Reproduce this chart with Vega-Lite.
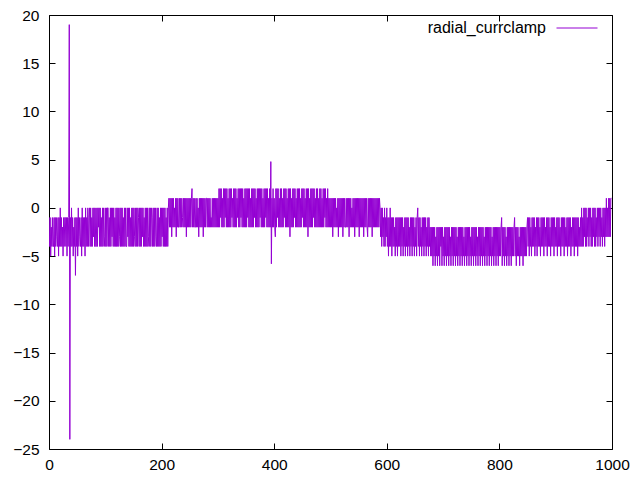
{
  "$schema": "https://vega.github.io/schema/vega-lite/v6.json",
  "width": 563,
  "height": 434,
  "autosize": {"type": "none"},
  "padding": {"left": 49, "top": 15, "right": 28, "bottom": 31},
  "background": "white",
  "config": {
    "view": {"stroke": "#000000", "strokeWidth": 1},
    "font": "Liberation Sans",
    "axis": {"domain": false, "grid": false, "tickColor": "#000000", "tickSize": -6, "tickWidth": 1, "labelFont": "Liberation Sans", "labelFontSize": 15.5, "labelColor": "#000000", "title": null}
  },
  "data": {"values": [
{"x":0,"y":-1},{"x":1,"y":-4},{"x":2,"y":-1},{"x":3,"y":-5},{"x":4,"y":-2},{"x":5,"y":-4},{"x":6,"y":-1},{"x":7,"y":-4},{"x":8,"y":-4},{"x":9,"y":-1},
{"x":10,"y":-5},{"x":11,"y":-1},{"x":12,"y":-4},{"x":13,"y":-1},{"x":14,"y":-3},{"x":15,"y":-4},{"x":16,"y":-1},{"x":17,"y":-5},{"x":18,"y":-1},{"x":19,"y":-4},
{"x":20,"y":0},{"x":21,"y":-4},{"x":22,"y":-1},{"x":23,"y":-4},{"x":24,"y":-2},{"x":25,"y":-5},{"x":26,"y":-1},{"x":27,"y":-4},{"x":28,"y":-1},{"x":29,"y":-1},
{"x":30,"y":-4},{"x":31,"y":-1},{"x":32,"y":-5},{"x":33,"y":-1},{"x":34,"y":-4},{"x":35,"y":-1},{"x":36,"y":19},{"x":37,"y":-24},{"x":38,"y":-1},{"x":39,"y":-4},
{"x":40,"y":0},{"x":41,"y":-4},{"x":42,"y":-1},{"x":43,"y":-5},{"x":44,"y":-2},{"x":45,"y":-4},{"x":46,"y":-1},{"x":47,"y":-7},{"x":48,"y":-1},{"x":49,"y":-4},
{"x":50,"y":-1},{"x":51,"y":-5},{"x":52,"y":0},{"x":53,"y":-4},{"x":54,"y":-1},{"x":55,"y":-3},{"x":56,"y":-4},{"x":57,"y":-1},{"x":58,"y":-5},{"x":59,"y":0},
{"x":60,"y":-4},{"x":61,"y":-1},{"x":62,"y":-4},{"x":63,"y":-1},{"x":64,"y":-5},{"x":65,"y":0},{"x":66,"y":-4},{"x":67,"y":-1},{"x":68,"y":-4},{"x":69,"y":0},
{"x":70,"y":-4},{"x":71,"y":-1},
{"x":72,"y":0},{"x":73,"y":-4},{"x":74,"y":0},{"x":75,"y":-4},{"x":76,"y":-1},{"x":77,"y":-4},{"x":78,"y":0},{"x":79,"y":-3},{"x":80,"y":0},{"x":81,"y":-4},
{"x":82,"y":0},{"x":83,"y":-4},{"x":84,"y":-4},{"x":85,"y":0},{"x":86,"y":-4},{"x":87,"y":0},{"x":88,"y":-2},{"x":89,"y":0},{"x":90,"y":-4},{"x":91,"y":0},
{"x":92,"y":-4},{"x":93,"y":-1},{"x":94,"y":-4},{"x":95,"y":0},{"x":96,"y":-4},{"x":97,"y":0},{"x":98,"y":-3},{"x":99,"y":-4},{"x":100,"y":0},{"x":101,"y":-4},
{"x":102,"y":0},{"x":103,"y":-4},{"x":104,"y":0},{"x":105,"y":0},{"x":106,"y":-4},{"x":107,"y":-1},{"x":108,"y":-4},{"x":109,"y":0},{"x":110,"y":-4},{"x":111,"y":0},
{"x":112,"y":-3},{"x":113,"y":0},{"x":114,"y":-4},{"x":115,"y":0},{"x":116,"y":-4},{"x":117,"y":-1},{"x":118,"y":-4},{"x":119,"y":0},{"x":120,"y":-4},{"x":121,"y":0},
{"x":122,"y":-4},{"x":123,"y":0},{"x":124,"y":-4},{"x":125,"y":-3},{"x":126,"y":0},{"x":127,"y":-4},{"x":128,"y":0},{"x":129,"y":-4},{"x":130,"y":0},{"x":131,"y":-4},
{"x":132,"y":-1},{"x":133,"y":-4},{"x":134,"y":0},{"x":135,"y":-4},{"x":136,"y":0},{"x":137,"y":-4},{"x":138,"y":-4},{"x":139,"y":0},{"x":140,"y":-3},{"x":141,"y":0},
{"x":142,"y":-4},{"x":143,"y":0},{"x":144,"y":-4},{"x":145,"y":-1},{"x":146,"y":-4},{"x":147,"y":0},{"x":148,"y":-4},{"x":149,"y":0},{"x":150,"y":-4},{"x":151,"y":0},
{"x":152,"y":-3},{"x":153,"y":-4},{"x":154,"y":0},{"x":155,"y":-4},{"x":156,"y":0},{"x":157,"y":-4},{"x":158,"y":0},{"x":159,"y":-1},{"x":160,"y":-4},{"x":161,"y":0},
{"x":162,"y":-4},{"x":163,"y":0},{"x":164,"y":-4},{"x":165,"y":0},{"x":166,"y":-3},{"x":167,"y":0},{"x":168,"y":-4},{"x":169,"y":-1},{"x":170,"y":-4},{"x":171,"y":0},
{"x":172,"y":-4},{"x":173,"y":0},{"x":174,"y":-4},{"x":175,"y":0},{"x":176,"y":-4},{"x":177,"y":-3},{"x":178,"y":0},{"x":179,"y":-4},{"x":180,"y":0},{"x":181,"y":-4},
{"x":182,"y":0},{"x":183,"y":-1},{"x":184,"y":-4},{"x":185,"y":0},{"x":186,"y":-4},{"x":187,"y":0},{"x":188,"y":-4},{"x":189,"y":0},{"x":190,"y":-3},{"x":191,"y":-4},
{"x":192,"y":0},{"x":193,"y":-4},{"x":194,"y":0},{"x":195,"y":-4},{"x":196,"y":-1},{"x":197,"y":-4},{"x":198,"y":0},{"x":199,"y":-4},{"x":200,"y":0},{"x":201,"y":-3},
{"x":202,"y":0},{"x":203,"y":-4},{"x":204,"y":0},{"x":205,"y":-4},{"x":206,"y":0},{"x":207,"y":-4},{"x":208,"y":-1},{"x":209,"y":-4},{"x":210,"y":0},{"x":211,"y":-4},
{"x":212,"y":0},
{"x":213,"y":1},{"x":214,"y":-2},{"x":215,"y":1},{"x":216,"y":-2},{"x":217,"y":1},{"x":218,"y":-3},{"x":219,"y":1},{"x":220,"y":-2},{"x":221,"y":1},{"x":222,"y":-2},
{"x":223,"y":0},{"x":224,"y":-2},{"x":225,"y":1},{"x":226,"y":-3},{"x":227,"y":1},{"x":228,"y":-2},{"x":229,"y":1},{"x":230,"y":-2},{"x":231,"y":-2},{"x":232,"y":1},
{"x":233,"y":-2},{"x":234,"y":1},{"x":235,"y":-2},{"x":236,"y":1},{"x":237,"y":-1},{"x":238,"y":-2},{"x":239,"y":1},{"x":240,"y":-2},{"x":241,"y":1},{"x":242,"y":-2},
{"x":243,"y":1},{"x":244,"y":-3},{"x":245,"y":1},{"x":246,"y":-2},{"x":247,"y":1},{"x":248,"y":-2},{"x":249,"y":1},{"x":250,"y":-2},{"x":251,"y":1},{"x":252,"y":-2},
{"x":253,"y":1},{"x":254,"y":2},{"x":255,"y":-2},{"x":256,"y":1},{"x":257,"y":-2},{"x":258,"y":1},{"x":259,"y":-2},{"x":260,"y":-2},{"x":261,"y":1},{"x":262,"y":-2},
{"x":263,"y":1},{"x":264,"y":-2},{"x":265,"y":0},{"x":266,"y":-3},{"x":267,"y":1},{"x":268,"y":-2},{"x":269,"y":1},{"x":270,"y":-2},{"x":271,"y":1},{"x":272,"y":-2},
{"x":273,"y":1},{"x":274,"y":-3},{"x":275,"y":1},{"x":276,"y":-2},{"x":277,"y":1},{"x":278,"y":-2},{"x":279,"y":1},{"x":280,"y":1},{"x":281,"y":-2},{"x":282,"y":1},
{"x":283,"y":-2},{"x":284,"y":1},{"x":285,"y":-2},{"x":286,"y":1},{"x":287,"y":-2},{"x":288,"y":-1},{"x":289,"y":-2},{"x":290,"y":1},{"x":291,"y":-2},{"x":292,"y":1},
{"x":293,"y":-2},{"x":294,"y":1},{"x":295,"y":-2},{"x":296,"y":1},{"x":297,"y":-2},{"x":298,"y":1},{"x":299,"y":-2},{"x":300,"y":1},{"x":301,"y":-2},
{"x":302,"y":2},{"x":303,"y":-2},{"x":304,"y":2},{"x":305,"y":-1},{"x":306,"y":2},{"x":307,"y":-2},{"x":308,"y":1},{"x":309,"y":-2},{"x":310,"y":2},{"x":311,"y":-2},
{"x":312,"y":2},{"x":313,"y":-1},{"x":314,"y":2},{"x":315,"y":-2},{"x":316,"y":2},{"x":317,"y":-2},{"x":318,"y":1},{"x":319,"y":-2},{"x":320,"y":2},{"x":321,"y":-2},
{"x":322,"y":2},{"x":323,"y":-2},{"x":324,"y":2},{"x":325,"y":-1},{"x":326,"y":1},{"x":327,"y":-2},{"x":328,"y":2},{"x":329,"y":-2},{"x":330,"y":2},{"x":331,"y":-2},
{"x":332,"y":2},{"x":333,"y":-2},{"x":334,"y":1},{"x":335,"y":-1},{"x":336,"y":2},{"x":337,"y":-2},{"x":338,"y":2},{"x":339,"y":-2},{"x":340,"y":2},{"x":341,"y":-1},
{"x":342,"y":2},{"x":343,"y":-2},{"x":344,"y":2},{"x":345,"y":-2},{"x":346,"y":1},{"x":347,"y":-2},{"x":348,"y":2},{"x":349,"y":-2},{"x":350,"y":2},{"x":351,"y":-2},
{"x":352,"y":2},{"x":353,"y":-1},{"x":354,"y":2},{"x":355,"y":-2},{"x":356,"y":2},{"x":357,"y":-2},{"x":358,"y":1},{"x":359,"y":-2},{"x":360,"y":2},{"x":361,"y":-2},
{"x":362,"y":2},{"x":363,"y":-2},{"x":364,"y":2},{"x":365,"y":-1},{"x":366,"y":2},{"x":367,"y":-2},{"x":368,"y":1},{"x":369,"y":-2},{"x":370,"y":2},{"x":371,"y":-2},
{"x":372,"y":2},{"x":373,"y":-2},{"x":374,"y":2},{"x":375,"y":-1},{"x":376,"y":2},{"x":377,"y":-2},{"x":378,"y":2},{"x":379,"y":-2},{"x":380,"y":1},{"x":381,"y":-2},
{"x":382,"y":2},{"x":383,"y":-2},{"x":384,"y":2},{"x":385,"y":-1},{"x":386,"y":2},{"x":387,"y":-2},{"x":388,"y":2},{"x":389,"y":-2},{"x":390,"y":1},{"x":391,"y":-2},
{"x":392,"y":2},{"x":393,"y":-2},{"x":394,"y":4.8},{"x":395,"y":-5.8},
{"x":396,"y":1},{"x":397,"y":-2},{"x":398,"y":2},{"x":399,"y":-2},{"x":400,"y":1},{"x":401,"y":-2},{"x":402,"y":-3},{"x":403,"y":2},{"x":404,"y":-2},{"x":405,"y":2},
{"x":406,"y":-1},{"x":407,"y":2},{"x":408,"y":-2},{"x":409,"y":1},{"x":410,"y":-2},{"x":411,"y":2},{"x":412,"y":-2},{"x":413,"y":2},{"x":414,"y":-2},{"x":415,"y":1},
{"x":416,"y":-2},{"x":417,"y":2},{"x":418,"y":-1},{"x":419,"y":2},{"x":420,"y":-2},{"x":421,"y":2},{"x":422,"y":-2},{"x":423,"y":1},{"x":424,"y":-2},{"x":425,"y":2},
{"x":426,"y":-2},{"x":427,"y":2},{"x":428,"y":-3},{"x":429,"y":2},{"x":430,"y":-2},{"x":431,"y":1},{"x":432,"y":-2},{"x":433,"y":2},{"x":434,"y":-2},{"x":435,"y":2},
{"x":436,"y":-1},{"x":437,"y":2},{"x":438,"y":-2},{"x":439,"y":1},{"x":440,"y":-2},{"x":441,"y":2},{"x":442,"y":-2},{"x":443,"y":2},{"x":444,"y":-2},{"x":445,"y":2},
{"x":446,"y":-2},{"x":447,"y":1},{"x":448,"y":-2},{"x":449,"y":2},{"x":450,"y":-1},{"x":451,"y":2},{"x":452,"y":-2},{"x":453,"y":2},{"x":454,"y":-2},{"x":455,"y":1},
{"x":456,"y":-2},{"x":457,"y":2},{"x":458,"y":-2},{"x":459,"y":2},{"x":460,"y":-3},{"x":461,"y":2},{"x":462,"y":-2},{"x":463,"y":1},{"x":464,"y":-2},{"x":465,"y":2},
{"x":466,"y":-2},{"x":467,"y":2},{"x":468,"y":-2},{"x":469,"y":2},{"x":470,"y":-1},{"x":471,"y":2},{"x":472,"y":-2},{"x":473,"y":1},{"x":474,"y":-2},{"x":475,"y":2},
{"x":476,"y":-2},{"x":477,"y":2},{"x":478,"y":-2},{"x":479,"y":1},{"x":480,"y":-2},{"x":481,"y":2},{"x":482,"y":-2},{"x":483,"y":2},{"x":484,"y":-2},{"x":485,"y":1},
{"x":486,"y":-2},{"x":487,"y":2},{"x":488,"y":-2},{"x":489,"y":2},{"x":490,"y":-1},{"x":491,"y":2},{"x":492,"y":-2},{"x":493,"y":1},{"x":494,"y":-2},{"x":495,"y":2},
{"x":496,"y":-2},{"x":497,"y":1},{"x":498,"y":-2},{"x":499,"y":1},
{"x":500,"y":-2},{"x":501,"y":1},{"x":502,"y":-2},{"x":503,"y":1},{"x":504,"y":-3},{"x":505,"y":1},{"x":506,"y":-2},{"x":507,"y":1},{"x":508,"y":-2},{"x":509,"y":1},
{"x":510,"y":-2},{"x":511,"y":0},{"x":512,"y":-2},{"x":513,"y":1},{"x":514,"y":-3},{"x":515,"y":1},{"x":516,"y":-2},{"x":517,"y":1},{"x":518,"y":-2},{"x":519,"y":1},
{"x":520,"y":-2},{"x":521,"y":1},{"x":522,"y":-3},{"x":523,"y":1},{"x":524,"y":-2},{"x":525,"y":1},{"x":526,"y":-2},{"x":527,"y":-2},{"x":528,"y":1},{"x":529,"y":-2},
{"x":530,"y":1},{"x":531,"y":-2},{"x":532,"y":1},{"x":533,"y":-3},{"x":534,"y":1},{"x":535,"y":-2},{"x":536,"y":1},{"x":537,"y":-2},{"x":538,"y":0},{"x":539,"y":-2},
{"x":540,"y":1},{"x":541,"y":-2},{"x":542,"y":1},{"x":543,"y":-3},{"x":544,"y":1},{"x":545,"y":-2},{"x":546,"y":1},{"x":547,"y":-2},{"x":548,"y":1},{"x":549,"y":-2},
{"x":550,"y":1},{"x":551,"y":-3},{"x":552,"y":1},{"x":553,"y":-2},{"x":554,"y":1},{"x":555,"y":-2},{"x":556,"y":1},{"x":557,"y":-2},{"x":558,"y":1},{"x":559,"y":-3},
{"x":560,"y":1},{"x":561,"y":-2},{"x":562,"y":1},{"x":563,"y":-2},{"x":564,"y":1},{"x":565,"y":-2},{"x":566,"y":-3},{"x":567,"y":1},{"x":568,"y":-2},{"x":569,"y":1},
{"x":570,"y":-2},{"x":571,"y":1},{"x":572,"y":-2},{"x":573,"y":1},{"x":574,"y":-3},{"x":575,"y":1},{"x":576,"y":-2},{"x":577,"y":1},{"x":578,"y":-2},{"x":579,"y":1},
{"x":580,"y":-2},{"x":581,"y":1},{"x":582,"y":-2},{"x":583,"y":1},{"x":584,"y":-2},{"x":585,"y":1},{"x":586,"y":-2},{"x":587,"y":1},
{"x":588,"y":0},{"x":589,"y":-3},{"x":590,"y":0},{"x":591,"y":-4},{"x":592,"y":0},{"x":593,"y":-3},{"x":594,"y":-1},{"x":595,"y":-4},{"x":596,"y":0},{"x":597,"y":-4},
{"x":598,"y":-1},{"x":599,"y":-3},{"x":600,"y":0},{"x":601,"y":-4},{"x":602,"y":-1},{"x":603,"y":-5},{"x":604,"y":-1},{"x":605,"y":-4},{"x":606,"y":0},{"x":607,"y":-4},
{"x":608,"y":-1},{"x":609,"y":-5},{"x":610,"y":-1},{"x":611,"y":-4},{"x":612,"y":-1},{"x":613,"y":-4},{"x":614,"y":-2},{"x":615,"y":-5},{"x":616,"y":-1},{"x":617,"y":-4},
{"x":618,"y":-1},{"x":619,"y":-5},{"x":620,"y":-1},{"x":621,"y":-4},{"x":622,"y":-1},{"x":623,"y":-4},
{"x":624,"y":-1},{"x":625,"y":-5},{"x":626,"y":-1},{"x":627,"y":-4},{"x":628,"y":-1},{"x":629,"y":-5},{"x":630,"y":-2},{"x":631,"y":-4},{"x":632,"y":-1},{"x":633,"y":-5},
{"x":634,"y":-1},{"x":635,"y":-4},{"x":636,"y":-1},{"x":637,"y":-5},{"x":638,"y":-1},{"x":639,"y":-4},{"x":640,"y":-2},{"x":641,"y":-5},{"x":642,"y":-1},{"x":643,"y":-4},
{"x":644,"y":-1},{"x":645,"y":-5},{"x":646,"y":-1},{"x":647,"y":-4},{"x":648,"y":-1},{"x":649,"y":-5},{"x":650,"y":-2},{"x":651,"y":-4},{"x":652,"y":-1},{"x":653,"y":-5},
{"x":654,"y":-1},{"x":655,"y":0},{"x":656,"y":-4},{"x":657,"y":-1},{"x":658,"y":-5},{"x":659,"y":-1},{"x":660,"y":-4},{"x":661,"y":-2},{"x":662,"y":-5},{"x":663,"y":-1},
{"x":664,"y":-4},{"x":665,"y":-1},{"x":666,"y":-5},{"x":667,"y":-1},{"x":668,"y":-4},{"x":669,"y":-1},{"x":670,"y":-5},{"x":671,"y":-2},{"x":672,"y":-4},{"x":673,"y":-1},
{"x":674,"y":-5},{"x":675,"y":-1},{"x":676,"y":-4},{"x":677,"y":-2},{"x":678,"y":-5},{"x":679,"y":-2},
{"x":680,"y":-5},{"x":681,"y":-2},{"x":682,"y":-6},{"x":683,"y":-2},{"x":684,"y":-5},{"x":685,"y":-2},{"x":686,"y":-6},{"x":687,"y":-3},{"x":688,"y":-5},{"x":689,"y":-2},
{"x":690,"y":-6},{"x":691,"y":-2},{"x":692,"y":-5},{"x":693,"y":-2},{"x":694,"y":-6},{"x":695,"y":-2},{"x":696,"y":-4},{"x":697,"y":-2},{"x":698,"y":-6},{"x":699,"y":-2},
{"x":700,"y":-5},{"x":701,"y":-3},{"x":702,"y":-6},{"x":703,"y":-2},{"x":704,"y":-5},{"x":705,"y":-2},{"x":706,"y":-6},{"x":707,"y":-2},{"x":708,"y":-5},{"x":709,"y":-2},
{"x":710,"y":-6},{"x":711,"y":-2},{"x":712,"y":-5},{"x":713,"y":-3},{"x":714,"y":-6},{"x":715,"y":-2},{"x":716,"y":-5},{"x":717,"y":-2},{"x":718,"y":-6},{"x":719,"y":-2},
{"x":720,"y":-5},{"x":721,"y":-2},{"x":722,"y":-6},{"x":723,"y":-2},{"x":724,"y":-5},{"x":725,"y":-3},{"x":726,"y":-6},{"x":727,"y":-2},{"x":728,"y":-5},{"x":729,"y":-2},
{"x":730,"y":-6},{"x":731,"y":-2},{"x":732,"y":-5},{"x":733,"y":-2},{"x":734,"y":-6},{"x":735,"y":-2},{"x":736,"y":-5},{"x":737,"y":-3},{"x":738,"y":-6},{"x":739,"y":-2},
{"x":740,"y":-5},{"x":741,"y":-2},{"x":742,"y":-6},{"x":743,"y":-2},{"x":744,"y":-5},{"x":745,"y":-2},{"x":746,"y":-6},{"x":747,"y":-2},{"x":748,"y":-5},{"x":749,"y":-3},
{"x":750,"y":-6},{"x":751,"y":-2},{"x":752,"y":-5},{"x":753,"y":-2},{"x":754,"y":-6},{"x":755,"y":-2},{"x":756,"y":-5},{"x":757,"y":-2},{"x":758,"y":-6},{"x":759,"y":-2},
{"x":760,"y":-5},{"x":761,"y":-3},{"x":762,"y":-6},{"x":763,"y":-2},{"x":764,"y":-5},{"x":765,"y":-2},{"x":766,"y":-6},{"x":767,"y":-2},{"x":768,"y":-5},{"x":769,"y":-2},
{"x":770,"y":-6},{"x":771,"y":-2},{"x":772,"y":-5},{"x":773,"y":-3},{"x":774,"y":-6},{"x":775,"y":-2},{"x":776,"y":-5},{"x":777,"y":-2},{"x":778,"y":-6},{"x":779,"y":-2},
{"x":780,"y":-5},{"x":781,"y":-2},{"x":782,"y":-6},{"x":783,"y":-2},{"x":784,"y":-5},{"x":785,"y":-2},{"x":786,"y":-6},{"x":787,"y":-3},{"x":788,"y":-5},{"x":789,"y":-2},
{"x":790,"y":-6},{"x":791,"y":-2},{"x":792,"y":-5},{"x":793,"y":-2},{"x":794,"y":-6},{"x":795,"y":-2},{"x":796,"y":-5},{"x":797,"y":-2},{"x":798,"y":-6},{"x":799,"y":-2},
{"x":800,"y":-5},{"x":801,"y":-2},{"x":802,"y":-5},{"x":803,"y":-2},{"x":804,"y":-1},{"x":805,"y":-6},{"x":806,"y":-2},{"x":807,"y":-5},{"x":808,"y":-2},{"x":809,"y":-6},
{"x":810,"y":-2},{"x":811,"y":-5},{"x":812,"y":-3},{"x":813,"y":-6},{"x":814,"y":-2},{"x":815,"y":-5},{"x":816,"y":-2},{"x":817,"y":-6},{"x":818,"y":-2},{"x":819,"y":-5},
{"x":820,"y":-2},{"x":821,"y":-6},{"x":822,"y":-2},{"x":823,"y":-5},{"x":824,"y":-2},{"x":825,"y":-5},{"x":826,"y":-2},{"x":827,"y":-1},{"x":828,"y":-5},{"x":829,"y":-2},
{"x":830,"y":-6},{"x":831,"y":-2},{"x":832,"y":-5},{"x":833,"y":-2},{"x":834,"y":-5},{"x":835,"y":-3},{"x":836,"y":-6},{"x":837,"y":-2},{"x":838,"y":-5},{"x":839,"y":-2},
{"x":840,"y":-5},{"x":841,"y":-2},{"x":842,"y":-6},{"x":843,"y":-2},{"x":844,"y":-5},{"x":845,"y":-2},{"x":846,"y":-5},{"x":847,"y":-2},{"x":848,"y":-5},{"x":849,"y":-2},
{"x":850,"y":-1},{"x":851,"y":-4},{"x":852,"y":-1},{"x":853,"y":-5},{"x":854,"y":-1},{"x":855,"y":-4},{"x":856,"y":-2},{"x":857,"y":-5},{"x":858,"y":-1},{"x":859,"y":-4},
{"x":860,"y":-1},{"x":861,"y":-4},{"x":862,"y":-1},{"x":863,"y":-5},{"x":864,"y":-2},{"x":865,"y":-4},{"x":866,"y":-1},{"x":867,"y":-5},{"x":868,"y":-1},{"x":869,"y":-4},
{"x":870,"y":-1},{"x":871,"y":-4},{"x":872,"y":-2},{"x":873,"y":-5},{"x":874,"y":-1},{"x":875,"y":-4},{"x":876,"y":-1},{"x":877,"y":-4},{"x":878,"y":-1},{"x":879,"y":-5},
{"x":880,"y":-1},{"x":881,"y":-4},{"x":882,"y":-2},{"x":883,"y":-4},{"x":884,"y":-1},{"x":885,"y":-5},{"x":886,"y":-1},{"x":887,"y":-4},{"x":888,"y":-1},{"x":889,"y":-4},
{"x":890,"y":-2},{"x":891,"y":-5},{"x":892,"y":-1},{"x":893,"y":-4},{"x":894,"y":-1},{"x":895,"y":-4},{"x":896,"y":-1},{"x":897,"y":-5},{"x":898,"y":-1},{"x":899,"y":-4},
{"x":900,"y":-2},{"x":901,"y":-4},{"x":902,"y":-1},{"x":903,"y":-5},{"x":904,"y":-1},{"x":905,"y":-4},{"x":906,"y":-1},{"x":907,"y":-4},{"x":908,"y":-2},{"x":909,"y":-5},
{"x":910,"y":-1},{"x":911,"y":-4},{"x":912,"y":-1},{"x":913,"y":-4},{"x":914,"y":-1},{"x":915,"y":-5},{"x":916,"y":-1},{"x":917,"y":-4},{"x":918,"y":-2},{"x":919,"y":-4},
{"x":920,"y":-1},{"x":921,"y":-5},{"x":922,"y":-1},{"x":923,"y":-4},{"x":924,"y":-1},{"x":925,"y":-4},{"x":926,"y":-1},{"x":927,"y":-5},{"x":928,"y":-2},{"x":929,"y":-4},
{"x":930,"y":-1},{"x":931,"y":-4},{"x":932,"y":-1},{"x":933,"y":-5},{"x":934,"y":-1},{"x":935,"y":-4},{"x":936,"y":-1},{"x":937,"y":-4},{"x":938,"y":-1},{"x":939,"y":-5},
{"x":940,"y":-1},{"x":941,"y":-4},{"x":942,"y":-2},{"x":943,"y":-4},{"x":944,"y":-1},{"x":945,"y":-4},
{"x":946,"y":0},{"x":947,"y":-4},{"x":948,"y":-1},{"x":949,"y":-4},{"x":950,"y":0},{"x":951,"y":-3},{"x":952,"y":0},{"x":953,"y":-4},{"x":954,"y":0},{"x":955,"y":-4},
{"x":956,"y":-1},{"x":957,"y":-3},{"x":958,"y":0},{"x":959,"y":-4},{"x":960,"y":0},{"x":961,"y":-3},{"x":962,"y":0},{"x":963,"y":-4},{"x":964,"y":-1},{"x":965,"y":-4},
{"x":966,"y":0},{"x":967,"y":-3},{"x":968,"y":0},{"x":969,"y":-4},{"x":970,"y":0},{"x":971,"y":-4},{"x":972,"y":-1},{"x":973,"y":-3},{"x":974,"y":0},{"x":975,"y":-4},
{"x":976,"y":0},{"x":977,"y":-3},{"x":978,"y":0},{"x":979,"y":-4},{"x":980,"y":0},{"x":981,"y":-3},{"x":982,"y":-1},{"x":983,"y":-4},{"x":984,"y":0},{"x":985,"y":-3},
{"x":986,"y":0},{"x":987,"y":-4},{"x":988,"y":0},{"x":989,"y":-3},{"x":990,"y":1},{"x":991,"y":-3},{"x":992,"y":0},{"x":993,"y":-3},{"x":994,"y":1},{"x":995,"y":-3},
{"x":996,"y":1},{"x":997,"y":-3},{"x":998,"y":1},{"x":999,"y":1}
  ]},
  "layer": [
    {
      "mark": {"type": "line", "strokeWidth": 1, "interpolate": "linear", "clip": true},
      "encoding": {
        "x": {"field": "x", "type": "quantitative", "scale": {"domain": [0, 1000], "nice": false, "zero": false}, "axis": {"orient": "bottom", "values": [0, 200, 400, 600, 800, 1000], "format": "d", "labelPadding": 14, "labelFlush": false}},
        "y": {"field": "y", "type": "quantitative", "scale": {"domain": [-25, 20], "nice": false, "zero": false}, "axis": {"orient": "left", "values": [-25, -20, -15, -10, -5, 0, 5, 10, 15, 20], "labelPadding": 16}},
        "color": {"datum": "radial_currclamp", "type": "nominal", "scale": {"range": ["#9400d3"]}, "legend": {"orient": "none", "legendX": 507, "legendY": -8, "symbolType": "stroke", "symbolSize": 1681, "symbolStrokeWidth": 1, "labelAlign": "right", "labelOffset": -52, "labelFontSize": 16, "labelFont": "Liberation Sans", "labelColor": "#000000", "title": null}}
      }
    },
    {
      "mark": {"type": "point", "opacity": 0},
      "encoding": {
        "x": {"field": "x", "type": "quantitative", "axis": {"orient": "top", "values": [0, 200, 400, 600, 800, 1000], "labels": false}},
        "y": {"field": "y", "type": "quantitative", "axis": {"orient": "right", "values": [-25, -20, -15, -10, -5, 0, 5, 10, 15, 20], "labels": false}}
      }
    }
  ],
  "resolve": {"axis": {"x": "independent", "y": "independent"}}
}
